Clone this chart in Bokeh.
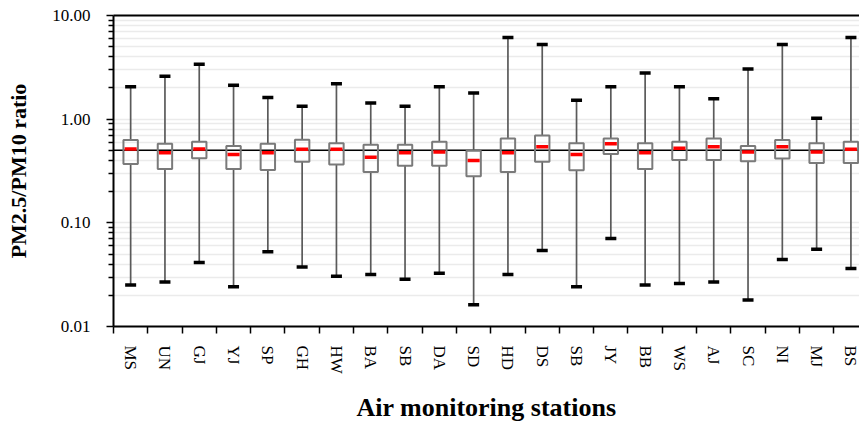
from bokeh.plotting import figure
from bokeh.models import (Range1d, FixedTicker, LinearAxis, PrintfTickFormatter,
                          Span, ColumnDataSource)
from bokeh.embed import file_html
from bokeh.resources import INLINE

# ---- data ----
stations = ["MS", "UN", "GJ", "YJ", "SP", "GH", "HW", "BA", "SB", "DA", "SD",
            "HD", "DS", "SB", "JY", "BB", "WS", "AJ", "SC", "NI", "MJ", "BS"]
ratio_max = [2.05, 2.59, 3.38, 2.12, 1.62, 1.33, 2.19, 1.43, 1.33, 2.05, 1.79,
             6.15, 5.24, 1.52, 2.05, 2.79, 2.05, 1.57, 3.05, 5.24, 1.02, 6.15]
ratio_q3 = [0.63, 0.58, 0.605, 0.55, 0.58, 0.632, 0.587, 0.566, 0.566, 0.605, 0.495,
            0.652, 0.697, 0.587, 0.652, 0.587, 0.605, 0.652, 0.55, 0.628, 0.587, 0.605]
ratio_median = [0.515, 0.474, 0.515, 0.457, 0.474, 0.514, 0.514, 0.428, 0.474, 0.481, 0.40,
                0.474, 0.542, 0.457, 0.578, 0.474, 0.523, 0.542, 0.481, 0.542, 0.481, 0.514]
ratio_q1 = [0.37, 0.33, 0.42, 0.33, 0.323, 0.388, 0.366, 0.309, 0.355, 0.355, 0.281,
            0.309, 0.388, 0.321, 0.461, 0.330, 0.403, 0.403, 0.392, 0.418, 0.377, 0.377]
ratio_min = [0.0251, 0.0268, 0.0414, 0.0242, 0.0525, 0.0374, 0.0306, 0.0317, 0.0286, 0.0327, 0.0162,
             0.0317, 0.054, 0.0242, 0.0705, 0.0251, 0.026, 0.0268, 0.018, 0.0442, 0.0557, 0.0362]
reference_ratio = 0.5
y_major = [0.01, 0.1, 1, 10]

xs = list(range(len(stations)))
src = ColumnDataSource(dict(x=xs, mx=ratio_max, q3=ratio_q3, med=ratio_median,
                            q1=ratio_q1, mn=ratio_min))

FONT = "Liberation Serif"

p = figure(width=859, height=424, y_axis_type="log",
           x_range=Range1d(-0.5, 21.25), y_range=Range1d(0.01, 10),
           output_backend="svg", toolbar_location=None,
           min_border_left=113, min_border_right=0, min_border_top=15,
           min_border_bottom=97, outline_line_color=None,
           background_fill_color="white", border_fill_color="white")

# grid
p.xgrid.visible = False
p.ygrid.grid_line_color = "#ebebeb"
p.ygrid.grid_line_width = 1.5
p.ygrid.minor_grid_line_color = "#ebebeb"
p.ygrid.minor_grid_line_width = 1.5

# y axis
minor_y = [d * k for d in y_major[:-1] for k in range(2, 10)]
p.yaxis.ticker = FixedTicker(ticks=y_major, minor_ticks=minor_y)
p.yaxis.formatter = PrintfTickFormatter(format="%.2f")
p.yaxis.major_tick_in = 0
p.yaxis.major_tick_out = 7
p.yaxis.minor_tick_in = 0
p.yaxis.minor_tick_out = 5
p.yaxis.major_tick_line_color = "black"
p.yaxis.minor_tick_line_color = "black"
p.yaxis.major_tick_line_width = 1.5
p.yaxis.minor_tick_line_width = 1.5
p.yaxis.axis_line_color = "black"
p.yaxis.axis_line_width = 2
p.yaxis.major_label_text_font = FONT
p.yaxis.major_label_text_font_size = "17px"
p.yaxis.major_label_text_color = "black"
p.yaxis.major_label_standoff = 16
p.yaxis.axis_label = "PM2.5/PM10 ratio"
p.yaxis.axis_label_text_font = FONT
p.yaxis.axis_label_text_font_style = "bold"
p.yaxis.axis_label_text_font_size = "22px"
p.yaxis.axis_label_text_color = "black"
p.yaxis.axis_label_standoff = 18

# x axis
p.xaxis.ticker = FixedTicker(ticks=xs, minor_ticks=[i - 0.5 for i in xs] + [xs[-1] + 0.5])
p.xaxis.major_label_overrides = {i: s for i, s in zip(xs, stations)}
p.xaxis.major_label_orientation = "vertical"
p.xaxis.major_tick_in = 0
p.xaxis.major_tick_out = 0
p.xaxis.minor_tick_in = 0
p.xaxis.minor_tick_out = 7
p.xaxis.minor_tick_line_color = "black"
p.xaxis.minor_tick_line_width = 1.5
p.xaxis.axis_line_color = "black"
p.xaxis.axis_line_width = 2
p.xaxis.major_label_text_font = FONT
p.xaxis.major_label_text_font_size = "17px"
p.xaxis.major_label_text_color = "black"
p.xaxis.major_label_standoff = 12
p.xaxis.axis_label = "Air monitoring stations"
p.xaxis.axis_label_text_font = FONT
p.xaxis.axis_label_text_font_style = "bold"
p.xaxis.axis_label_text_font_size = "26px"
p.xaxis.axis_label_text_color = "black"
p.xaxis.axis_label_standoff = 16

# top border line
top = LinearAxis(ticker=FixedTicker(ticks=[]), major_label_text_font_size="0px",
                 major_tick_out=0, major_tick_in=0, minor_tick_out=0, minor_tick_in=0,
                 axis_line_color="black", axis_line_width=2)
p.add_layout(top, "above")

# reference line
p.add_layout(Span(location=reference_ratio, dimension="width", line_color="black",
                  line_width=1.5, level="underlay"))

# whiskers
p.segment(x0="x", x1="x", y0="q3", y1="mx", source=src, line_color="#5a5a5a", line_width=1.7)
p.segment(x0="x", x1="x", y0="mn", y1="q1", source=src, line_color="#5a5a5a", line_width=1.7)
# boxes
p.vbar(x="x", width=0.42, top="q3", bottom="q1", source=src, fill_color=None,
       line_color="#7a7a7a", line_width=2)
# caps
p.scatter(x="x", y="mx", source=src, marker="dash", size=11, line_width=3.5, line_color="black")
p.scatter(x="x", y="mn", source=src, marker="dash", size=11, line_width=3.5, line_color="black")
# medians
p.scatter(x="x", y="med", source=src, marker="dash", size=12, line_width=3.5, line_color="#ff0000")

open("out.html", "w").write(file_html(p, INLINE))
